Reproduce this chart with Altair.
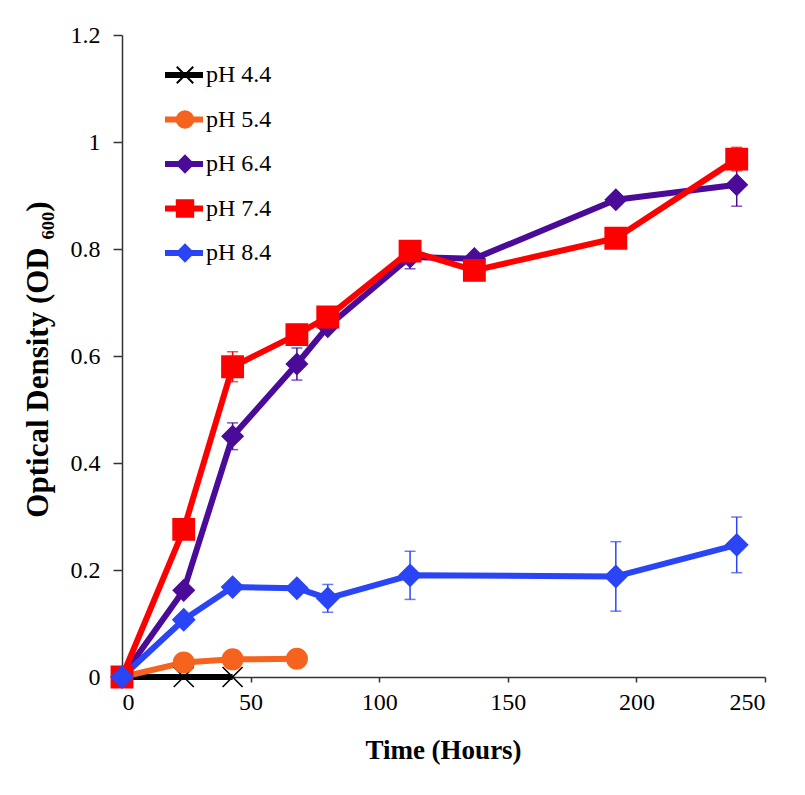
import altair as alt
import pandas as pd

series = ["pH 4.4", "pH 5.4", "pH 6.4", "pH 7.4", "pH 8.4"]
colors = ["#000000", "#F5631E", "#4A0C98", "#FE0000", "#2A45F5"]
shapes = ["M-1,-1L1,1M-1,1L1,-1", "circle", "diamond", "square", "diamond"]
marker_sizes = [400, 470, 520, 450, 520]

t_44 = [0, 24, 43]
od_44 = [0.0, 0.0, 0.0]
err_44 = [0.0, 0.0, 0.0]

t_54 = [0, 24, 43, 68]
od_54 = [0.0, 0.027, 0.033, 0.034]
err_54 = [0.0, 0.0, 0.0, 0.0]

t_64 = [0, 24, 43, 68, 80, 112, 137, 192, 239]
od_64 = [0.0, 0.162, 0.45, 0.585, 0.655, 0.785, 0.782, 0.892, 0.92]
err_64 = [0.0, 0.01, 0.025, 0.03, 0.01, 0.022, 0.01, 0.01, 0.04]

t_74 = [0, 24, 43, 68, 80, 112, 137, 192, 239]
od_74 = [0.0, 0.276, 0.58, 0.64, 0.673, 0.796, 0.76, 0.82, 0.968]
err_74 = [0.0, 0.01, 0.028, 0.012, 0.01, 0.012, 0.01, 0.01, 0.022]

t_84 = [0, 24, 43, 68, 80, 112, 192, 239]
od_84 = [0.0, 0.107, 0.168, 0.166, 0.147, 0.19, 0.188, 0.247]
err_84 = [0.0, 0.01, 0.01, 0.01, 0.026, 0.045, 0.065, 0.052]

x_ticks = [0, 50, 100, 150, 200, 250]
y_ticks = [0, 0.2, 0.4, 0.6, 0.8, 1.0, 1.2]

rows = []
for name, ts, ods, errs in [
    ("pH 4.4", t_44, od_44, err_44),
    ("pH 5.4", t_54, od_54, err_54),
    ("pH 6.4", t_64, od_64, err_64),
    ("pH 7.4", t_74, od_74, err_74),
    ("pH 8.4", t_84, od_84, err_84),
]:
    for t, v, e in zip(ts, ods, errs):
        rows.append({"pH": name, "time": t, "od": v, "err": e,
                     "lo": v - e, "hi": v + e, "order": series.index(name)})
df = pd.DataFrame(rows)

FONT = "Liberation Serif"
cscale = alt.Scale(domain=series, range=colors)

x_enc = alt.X("time:Q", scale=alt.Scale(domain=[0, 250], nice=False),
              axis=alt.Axis(values=x_ticks, title="Time (Hours)", tickSize=5,
                            labelPadding=8, titleX=321, titleY=73,
                            titleBaseline="middle", titleFontSize=27))
y_axis = alt.Axis(values=y_ticks, format="~g", title="Optical Density (OD ₆₀₀)",
                  tickSize=9, labelPadding=13, titleX=-84, titleY=324,
                  titleAngle=-90, titleBaseline="middle", titleAlign="center",
                  titleFontSize=31)

base = alt.Chart(df)

err_df = base.transform_filter(alt.datum.err > 0.015)

err_rule = err_df.mark_rule(strokeWidth=1.5).encode(
    x=alt.X("time:Q"),
    y=alt.Y("lo:Q"),
    y2="hi:Q",
    color=alt.Color("pH:N", scale=cscale, legend=None),
)
cap_lo = err_df.mark_tick(orient="horizontal", size=11, thickness=1.5).encode(
    x=alt.X("time:Q"), y=alt.Y("lo:Q"),
    color=alt.Color("pH:N", scale=cscale, legend=None),
)
cap_hi = err_df.mark_tick(orient="horizontal", size=11, thickness=1.5).encode(
    x=alt.X("time:Q"), y=alt.Y("hi:Q"),
    color=alt.Color("pH:N", scale=cscale, legend=None),
)

line_legend = alt.Legend(
    orient="none", legendX=40, legendY=28, title=None,
    symbolType="stroke", symbolSize=1444, symbolStrokeWidth=6,
    labelFont=FONT, labelFontSize=24, labelColor="#000000",
    labelOffset=0, clipHeight=24, rowPadding=20.5, padding=0,
)
lines = base.mark_line(strokeWidth=6, strokeJoin="round").encode(
    x=x_enc,
    y=alt.Y("od:Q", scale=alt.Scale(domain=[0, 1.2], nice=False), axis=y_axis),
    color=alt.Color("pH:N", scale=cscale, legend=line_legend),
    order="order:Q",
)

pt_legend = alt.Legend(
    orient="none", legendX=51, legendY=28, title=None,
    symbolSize=270, symbolStrokeWidth=2, labelExpr="''", labelFontSize=24, labelFont=FONT,
    clipHeight=24, rowPadding=20.5, padding=0,
)
points = base.mark_point(filled=True, opacity=1, strokeWidth=1.6).encode(
    x=alt.X("time:Q"),
    y=alt.Y("od:Q"),
    color=alt.Color("pH:N", scale=cscale, legend=pt_legend),
    shape=alt.Shape("pH:N", scale=alt.Scale(domain=series, range=shapes), legend=pt_legend),
    stroke=alt.Stroke("pH:N", scale=alt.Scale(domain=series, range=colors), legend=pt_legend),
    size=alt.Size("pH:N", scale=alt.Scale(domain=series, range=marker_sizes), legend=None),
)

chart = alt.layer(err_rule, cap_lo, cap_hi, lines, points).resolve_legend(
    color="independent", shape="independent", stroke="independent"
).properties(
    width=643, height=642,
    autosize=alt.AutoSizeParams(type="none"),
    padding={"left": 114, "top": 27, "right": 32, "bottom": 110},
).configure_view(stroke=None).configure_axis(
    grid=False, labelFont=FONT, labelFontSize=24, labelColor="#000000",
    titleFont=FONT, titleFontSize=26, titleFontWeight="bold", titleColor="#000000",
    domainColor="#333333", tickColor="#333333", domainWidth=1.5, tickWidth=1.5,
)

chart.save("out.html", embed_options={"renderer": "svg", "actions": False})
